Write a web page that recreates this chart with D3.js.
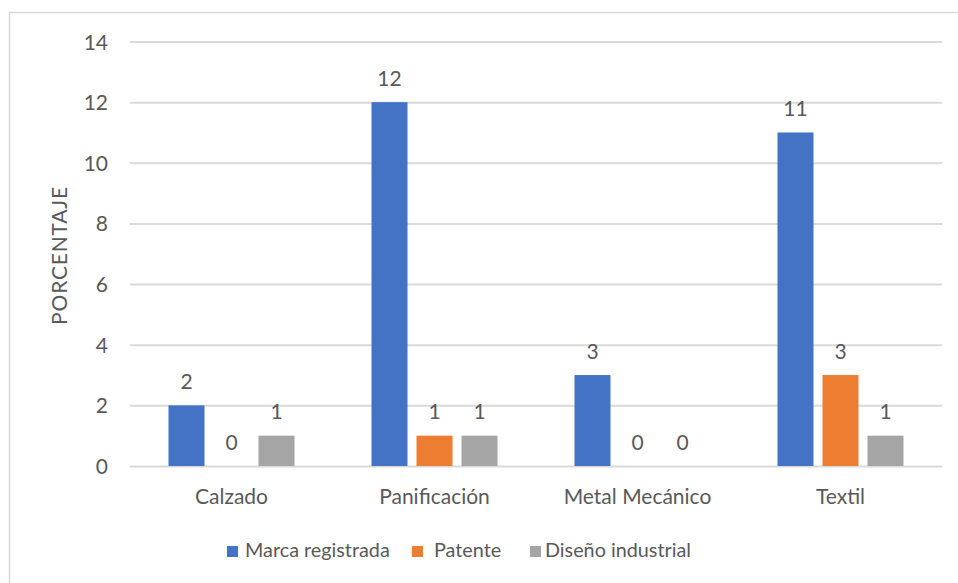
<!DOCTYPE html>
<html><head><meta charset="utf-8">
<script src="https://cdn.jsdelivr.net/npm/d3@7"></script>
<style>body{margin:0;background:#fff}svg{display:block}text{font-family:Lato,"Open Sans",sans-serif;fill:#595959}</style>
</head><body><svg id="c" width="958" height="583"></svg>
<script>
const categories = ["Calzado","Panificación","Metal Mecánico","Textil"];
const seriesNames = ["Marca registrada","Patente","Diseño industrial"];
const marca = [2,12,3,11];
const patente = [0,1,0,3];
const diseno = [1,1,0,1];
const yTicks = [0,2,4,6,8,10,12,14];
const colors = ["#4472C4","#ED7D31","#A5A5A5"];
const values = [marca, patente, diseno];

(function(){
const FS = 21;
const svg = d3.select("#c");
svg.append("rect").attr("x",9.5).attr("y",12.5).attr("width",960).attr("height",600)
  .attr("fill","#fff").attr("stroke","#D9D9D9").attr("stroke-width",1.5);

const pl=130, pr=942, pt=41.5, pb=466;
const y = d3.scaleLinear().domain([0,14]).range([pb,pt]);
const x0 = d3.scaleBand().domain(categories).range([pl,pr]).padding(0);
const x1 = d3.scaleBand().domain(seriesNames).range([-67.5,67.5]).paddingInner(0.2).paddingOuter(0.1);

const yAxis = d3.axisLeft(y).tickValues(yTicks).tickSize(-(pr-pl)).tickPadding(22);
const gy = svg.append("g").attr("transform",`translate(${pl},0)`).call(yAxis);
gy.select(".domain").remove();
gy.selectAll(".tick line").attr("stroke","#D9D9D9").attr("stroke-width",2);
gy.selectAll(".tick text").attr("font-size",FS).attr("font-family",null).attr("dy","0.36em").style("fill","#595959");

svg.append("text").attr("transform",`translate(67,255.5) rotate(-90)`)
  .attr("text-anchor","middle").attr("font-size",FS).attr("letter-spacing",0.8).text("PORCENTAJE");

const xAxis = d3.axisBottom(x0).tickSize(0);
const gx = svg.append("g").attr("transform",`translate(0,${pb})`).call(xAxis);
gx.select(".domain").remove();
gx.selectAll(".tick text").attr("font-size",FS).attr("font-family",null).attr("y",38).attr("dy",0).style("fill","#595959");

categories.forEach((c,ci)=>{
  const cx = x0(c)+x0.bandwidth()/2;
  seriesNames.forEach((s,si)=>{
    const v = values[si][ci];
    const bx = cx + x1(s);
    svg.append("rect").attr("x",bx).attr("y",y(v)).attr("width",x1.bandwidth())
      .attr("height",pb-y(v)).attr("fill",colors[si]);
    svg.append("text").attr("x",bx+x1.bandwidth()/2).attr("y",y(v)-16.5)
      .attr("text-anchor","middle").attr("font-size",FS).text(v);
  });
});

const legendX = [227,412,530];
const legendTX = [245,434,545];
seriesNames.forEach((s,i)=>{
  svg.append("rect").attr("x",legendX[i]).attr("y",546).attr("width",11).attr("height",11).attr("fill",colors[i]);
  svg.append("text").attr("x",legendTX[i]).attr("y",557).attr("font-size",19.8).text(s);
});
})();
</script></body></html>
